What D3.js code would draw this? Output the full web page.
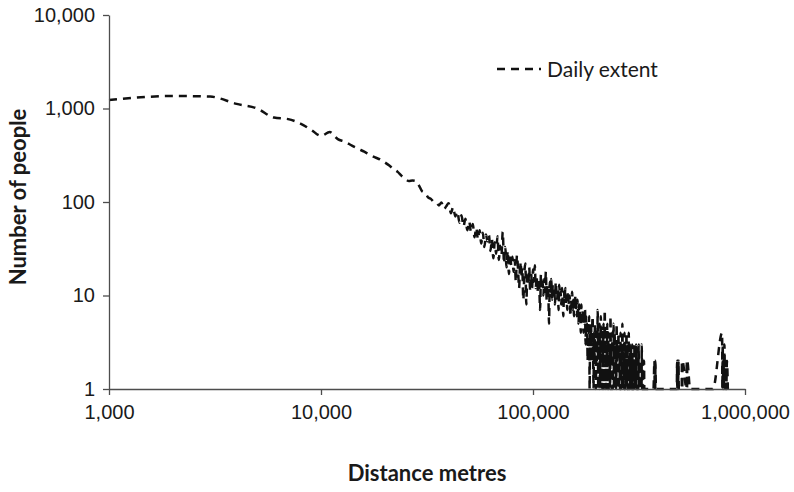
<!DOCTYPE html>
<html>
<head>
<meta charset="utf-8">
<script src="https://cdn.jsdelivr.net/npm/d3@7"></script>
<style>
  html, body { margin: 0; padding: 0; background: #fff; }
  svg { display: block; }
</style>
</head>
<body>
<svg id="chart" width="794" height="492"></svg>
<script>
// ---- data ----
const seriesName = "Daily extent";
const xTickValues = [1000, 10000, 100000, 1000000];
const yTickValues = [1, 10, 100, 1000, 10000];
const xTitle = "Distance metres";
const yTitle = "Number of people";

// counts per 1 km bin, from 1 km up to 335 km
const counts = [
1230,1360,1340,1120,1000,800,770,690,590,510,
560,470,440,400,370,345,320,300,285,265,
245,225,210,190,175,168,170,168,150,130,
125,112,108,100,98,92,99,84,90,97,
76,88,70,79,60,72,55,66,50,62,
48,58,42,53,40,50,36,47,33,45,
38,44,30,40,25,37,28,43,24,34,
27,48,22,33,20,30,17,28,21,26,
18,24,14,27,19,12,23,16,20,9,
17,22,8,18,13,20,11,17,12,19,
14,21,12,16,11,15,13,7,17,12,
14,10,15,11,18,9,13,12,5,14,
11,15,9,13,10,12,8,14,11,9,
12,7,13,10,11,8,12,9,6,11,
9,12,8,10,7,11,9,8,10,6,
9,8,11,7,9,6,8,10,7,8,
6,9,7,5,8,6,7,4,8,6,
5,7,4,6,5,7,3,6,4,5,
2,5,4,6,1,4,3,5,2,4,
6,3,1,4,2,5,3,1,4,2,
3,7,1,4,2,5,1,3,6,2,
4,1,3,2,5,1,3,7,2,4,
1,3,2,5,1,2,4,1,3,2,
1,6,2,3,1,4,2,1,3,5,
1,2,4,1,3,2,1,5,2,3,
1,2,4,1,2,3,1,2,4,1,
3,2,1,5,2,1,3,2,1,4,
2,1,3,1,2,4,1,2,3,1,
2,1,4,2,1,3,1,2,1,3,
1,2,1,3,1,2,1,1,2,1,
3,1,2,1,2,1,3,1,1,2,
1,2,1,1,3,1,2,1,1,2,
1,1,2,1,1,3,1,2,1,1,
2,1,1,2,1
];
const countsStartKm = 1;

// sparse tail (only non-empty distances, km)
const tailKm = [350,362,370,374,375,376,377,378,380,400,430,460,477,478,479,482,483,486,487,503,504,506,507,530,531,533,534,551,600,650,706,780,782,785,788,792,796,800,805,810,816,822,830];
const tailCounts = [1,1,1,2,1,2,1,2,1,1,1,1,1,2,1,2,1,2,1,1,2,1,2,1,2,1,2,1,1,1,1,4,1,3,1,2,1,3,1,2,1,2,1];

// ---- build points ----
const points = counts.map((c, i) => ({ d: (countsStartKm + i) * 1000, v: c }))
  .concat(tailKm.map((k, i) => ({ d: k * 1000, v: tailCounts[i] })));

// ---- chart ----
const svg = d3.select("#chart");
const plotLeft = 109, plotRight = 745, plotTop = 15, plotBottom = 389;

const x = d3.scaleLog().domain([1000, 1000000]).range([plotLeft, plotRight]);
const y = d3.scaleLog().domain([1, 10000]).range([plotBottom, plotTop]);

const axisColor = "#4d4d4d";
const tickFont = "'Liberation Sans', Arial, sans-serif";
const titleFont = "Lato, 'Open Sans', sans-serif";

// series line
svg.append("path")
  .datum(points)
  .attr("fill", "none")
  .attr("stroke", "#111")
  .attr("stroke-width", 2.5)
  .attr("stroke-dasharray", "8,6")
  .attr("d", d3.line().x(p => x(p.d)).y(p => y(p.v)).curve(d3.curveMonotoneX));

// y axis
const yAxis = svg.append("g")
  .attr("transform", `translate(${plotLeft},0)`)
  .call(d3.axisLeft(y).tickValues(yTickValues).tickFormat(d3.format(","))
    .tickSize(6).tickSizeOuter(0).tickPadding(8));
// x axis
const xAxis = svg.append("g")
  .attr("transform", `translate(0,${plotBottom})`)
  .call(d3.axisBottom(x).tickValues(xTickValues).tickFormat(d3.format(","))
    .tickSize(6).tickSizeOuter(0).tickPadding(10));

[yAxis, xAxis].forEach(g => {
  g.select(".domain").attr("stroke", axisColor).attr("stroke-width", 1.3);
  g.selectAll(".tick line").attr("stroke", axisColor).attr("stroke-width", 1.3);
  g.selectAll(".tick text").attr("fill", "#1a1a1a")
    .style("font-family", tickFont).style("font-size", "20px");
});

// axis titles
svg.append("text")
  .attr("transform", `translate(26,197) rotate(-90)`)
  .attr("text-anchor", "middle")
  .style("font-family", titleFont).style("font-weight", "bold").style("font-size", "22px")
  .attr("fill", "#1a1a1a")
  .text(yTitle);

svg.append("text")
  .attr("x", 427).attr("y", 481)
  .attr("text-anchor", "middle")
  .style("font-family", titleFont).style("font-weight", "bold").style("font-size", "22px")
  .attr("fill", "#1a1a1a")
  .text(xTitle);

// legend
svg.append("line")
  .attr("x1", 497).attr("x2", 541).attr("y1", 69).attr("y2", 69)
  .attr("stroke", "#111").attr("stroke-width", 2.5).attr("stroke-dasharray", "8,6");
svg.append("text")
  .attr("x", 547).attr("y", 77)
  .style("font-family", titleFont).style("font-size", "21px")
  .attr("fill", "#1a1a1a")
  .text(seriesName);
</script>
</body>
</html>
